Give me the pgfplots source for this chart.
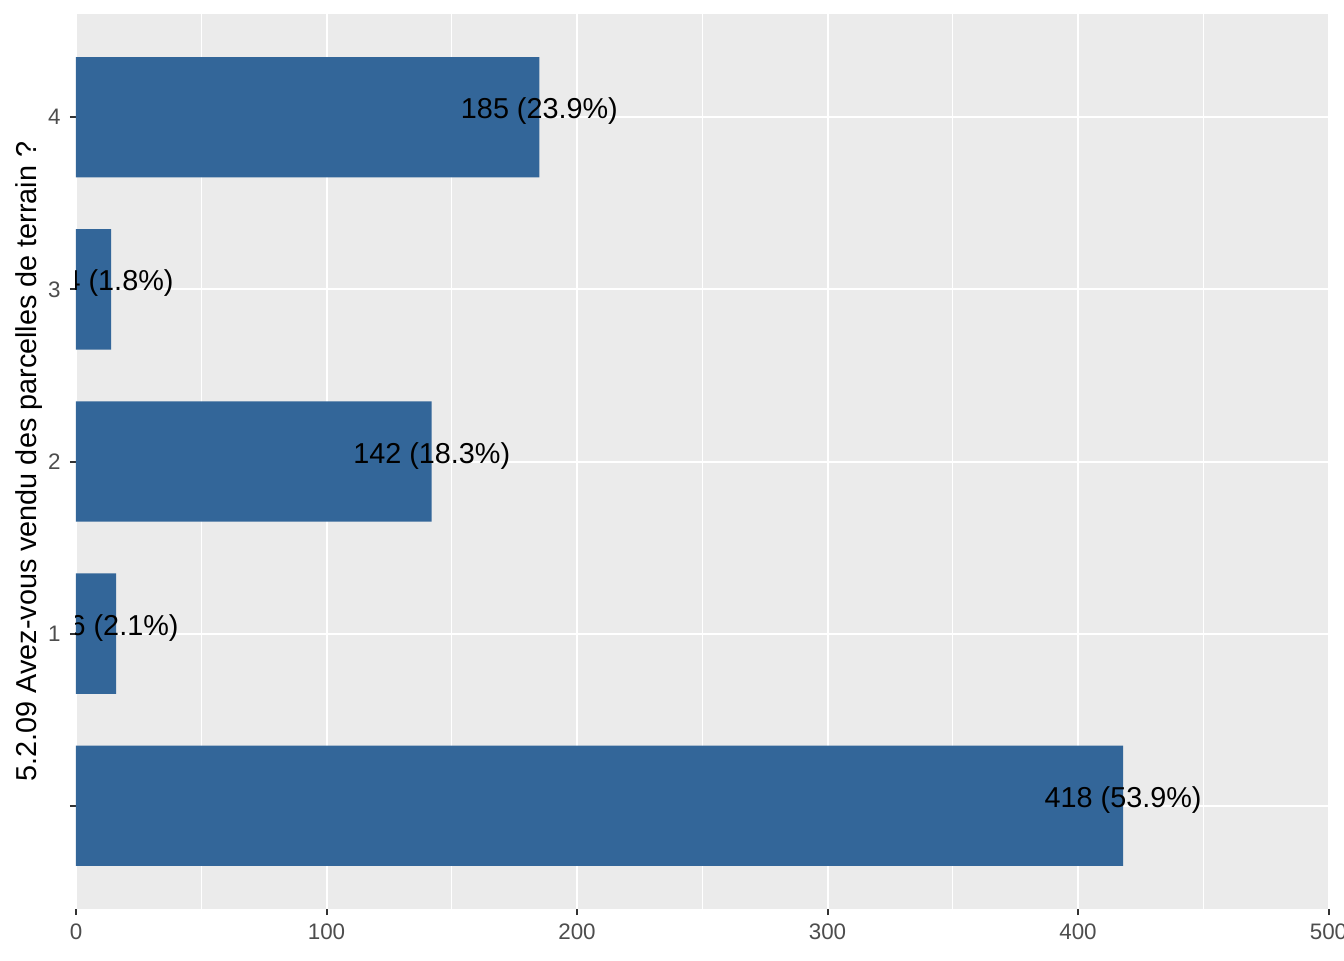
\documentclass[border=0pt]{standalone}
\usepackage{pgfplots}
\pgfplotsset{compat=1.18}
\usepackage{pgfplotstable}
\usepackage{fontspec}
\setmainfont{Liberation Sans}
\definecolor{barblue}{HTML}{336699}
\definecolor{panelbg}{HTML}{EBEBEB}
\definecolor{tickgray}{HTML}{4D4D4D}
\definecolor{tickdark}{HTML}{333333}
\pgfplotstableread{
cat value label
0 418 {418 (53.9\%)}
1 16 {16 (2.1\%)}
2 142 {142 (18.3\%)}
3 14 {14 (1.8\%)}
4 185 {185 (23.9\%)}
}\datatable
\begin{document}
\begin{tikzpicture}
\useasboundingbox (0,0) rectangle (672pt,480pt);
\begin{axis}[
  at={(38pt,25.5pt)}, anchor=south west,
  scale only axis, width=626.25pt, height=447.5pt,
  xmin=0, xmax=500, ymin=-0.6, ymax=4.6,
  axis background/.style={fill=panelbg},
  axis line style={draw=none},
  xtick={0,100,200,300,400,500},
  minor xtick={50,150,250,350,450},
  ytick={0,1,2,3,4},
  yticklabels={{},1,2,3,4},
  xmajorgrids, ymajorgrids, xminorgrids,
  major grid style={white, line width=1pt},
  minor grid style={white, line width=0.5pt},
  tick align=outside, tick pos=left,
  major tick length=3pt, minor tick length=0pt,
  every tick/.style={tickdark, line width=1pt},
  /pgf/number format/assume math mode=true,
  ticklabel style={font=\fontsize{11.2}{13}\selectfont, text=tickgray, inner sep=0pt},
  xticklabel style={anchor=north, yshift=-4pt},
  yticklabel style={anchor=east, xshift=-4.5pt},
  ylabel={5.2.09 Avez-vous vendu des parcelles de terrain ?},
  every axis y label/.style={at={(axis description cs:-0.03138,0.5)}, rotate=90, anchor=base, font=\fontsize{14.4}{17}\selectfont, text=black},
  clip mode=global,
  clip marker paths=true,
]
\addplot[xbar, bar width=60.2pt, bar shift=0pt, fill=barblue, draw=none] table[x=value, y=cat] {\datatable};
\addplot[draw=none, mark=none, nodes near coords, point meta=explicit symbolic,
  every node near coord/.style={anchor=base, yshift=-0.8pt, font=\fontsize{14.4}{17}\selectfont, text=black, inner sep=0pt}]
  table[x=value, y=cat, meta=label] {\datatable};
\end{axis}
\end{tikzpicture}
\end{document}
